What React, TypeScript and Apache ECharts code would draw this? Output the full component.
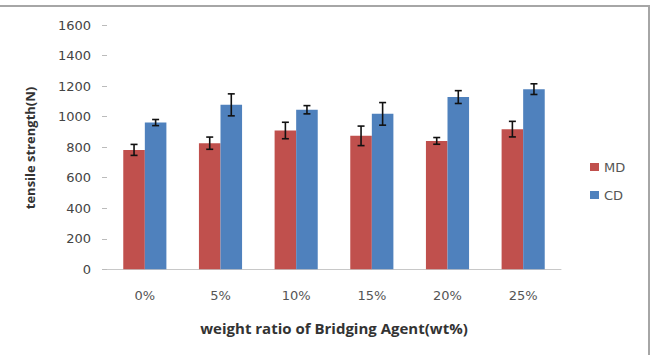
import React, { useEffect, useRef } from "react";
import * as echarts from "echarts";

const categories = ["0%", "5%", "10%", "15%", "20%", "25%"];
const mdValues = [782, 826, 909, 874, 841, 918];
const mdErrors = [36, 40, 54, 64, 22, 51];
const cdValues = [961, 1077, 1045, 1018, 1128, 1180];
const cdErrors = [20, 72, 27, 74, 42, 35];
const yTicks = { min: 0, max: 1600, interval: 200 };

const MD_COLOR = "#C0504D";
const CD_COLOR = "#4F81BD";
const LABEL_FONT = "'DejaVu Sans', sans-serif";
const TITLE_FONT = "'Open Sans', 'Liberation Sans', sans-serif";

function errorSeries(values: number[], errors: number[], side: number) {
  return {
    type: "custom",
    z: 10,
    silent: true,
    data: values.map((v, i) => [i, v - errors[i], v + errors[i]]),
    renderItem: (params: any, api: any) => {
      const idx = api.value(0);
      const band = api.size([1, 0])[0];
      const barW = band * 0.285;
      const low = api.coord([idx, api.value(1)]);
      const high = api.coord([idx, api.value(2)]);
      const x = low[0] + side * barW / 2;
      const cap = 3.5;
      const style = { stroke: "#111", lineWidth: 1.6 };
      return {
        type: "group",
        children: [
          { type: "line", shape: { x1: x, y1: low[1], x2: x, y2: high[1] }, style },
          { type: "line", shape: { x1: x - cap, y1: low[1], x2: x + cap, y2: low[1] }, style },
          { type: "line", shape: { x1: x - cap, y1: high[1], x2: x + cap, y2: high[1] }, style },
        ],
      };
    },
  };
}

export default function App() {
  const ref = useRef<HTMLDivElement>(null);
  useEffect(() => {
    if (!ref.current) return;
    const chart = echarts.init(ref.current, undefined, { renderer: "svg" });
    chart.setOption({
      animation: false,
      backgroundColor: "#ffffff",
      grid: { left: 107, top: 25, width: 454, height: 244.3 },
      xAxis: {
        type: "category",
        data: categories,
        axisLine: { show: true, lineStyle: { color: "#c8c8c8", width: 1 } },
        axisTick: { show: false },
        axisLabel: { margin: 20, fontSize: 13, color: "#555", fontFamily: LABEL_FONT },
      },
      yAxis: {
        type: "value",
        min: yTicks.min,
        max: yTicks.max,
        interval: yTicks.interval,
        axisLine: { show: false },
        axisTick: { show: true, length: 5, lineStyle: { color: "#bbb" } },
        splitLine: { show: false },
        axisLabel: {
          margin: 16,
          fontSize: 13,
          color: "#444",
          fontFamily: LABEL_FONT,
          formatter: (v: number) => String(v),
        },
      },
      legend: {
        orient: "vertical",
        left: 590,
        top: 160,
        padding: 0,
        itemWidth: 9,
        itemHeight: 8,
        itemGap: 14,
        icon: "rect",
        textStyle: { fontSize: 13, lineHeight: 14, color: "#555", fontFamily: LABEL_FONT },
        data: ["MD", "CD"],
      },
      series: [
        {
          name: "MD",
          type: "bar",
          data: mdValues,
          barGap: "0%",
          barCategoryGap: "43%",
          itemStyle: { color: MD_COLOR },
        },
        {
          name: "CD",
          type: "bar",
          data: cdValues,
          barGap: "0%",
          barCategoryGap: "43%",
          itemStyle: { color: CD_COLOR },
        },
        errorSeries(mdValues, mdErrors, -1),
        errorSeries(cdValues, cdErrors, 1),
      ],
      graphic: [
        {
          type: "rect",
          shape: { x: -10, y: 6, width: 659, height: 400 },
          style: { fill: "none", stroke: "#a6a6a6", lineWidth: 2 },
          z: 100,
        },
        {
          type: "line",
          shape: { x1: 102, y1: 269.5, x2: 107, y2: 269.5 },
          style: { stroke: "#c8c8c8", lineWidth: 1 },
        },
        {
          type: "text",
          x: 334,
          y: 328,
          style: {
            text: "weight ratio of Bridging Agent(wt%)",
            fontSize: 15,
            fontWeight: "bold",
            fill: "#333",
            fontFamily: TITLE_FONT,
            align: "center",
            verticalAlign: "middle",
          },
        },
        {
          type: "text",
          x: 30,
          y: 148,
          rotation: Math.PI / 2,
          style: {
            text: "tensile strength(N)",
            fontSize: 13,
            fontWeight: "bold",
            fill: "#333",
            fontFamily: TITLE_FONT,
            align: "center",
            verticalAlign: "middle",
          },
        },
      ],
    });
    return () => chart.dispose();
  }, []);
  return (
    <div
      ref={ref}
      style={{ position: "fixed", left: 0, top: 0, width: 659, height: 355 }}
    />
  );
}
